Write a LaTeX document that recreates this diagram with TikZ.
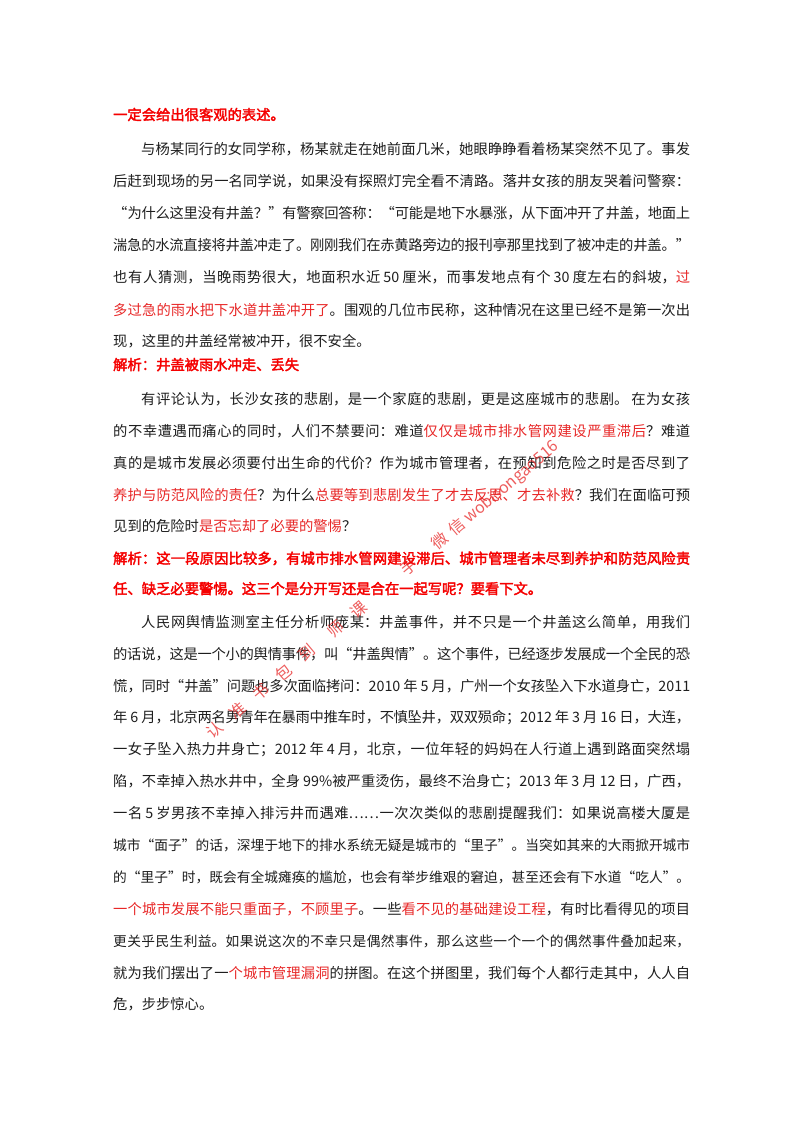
\documentclass[tikz,border=0pt]{standalone}
\usepackage{fontspec}
\setmainfont{Noto Sans CJK SC}
\newfontfamily\cjkb[FakeBold=2.5]{Noto Sans CJK SC}
\newfontfamily\cjkw{Noto Sans CJK SC}
\XeTeXlinebreaklocale "zh"
\XeTeXlinebreakskip=0pt plus 1pt minus 0.3pt
\definecolor{hl}{RGB}{232,40,40}
\definecolor{hd}{RGB}{245,0,0}
\definecolor{tx}{RGB}{30,30,30}
\newcommand{\jl}[1]{\parbox{577pt}{\XeTeXlinebreakskip=0pt plus 6pt minus 2pt\parindent=0pt\parfillskip=0pt\rightskip=0pt\leftskip=0pt\emergencystretch=0pt\hyphenpenalty=10000\tolerance=10000 #1}}
\newcommand{\R}[1]{\textcolor{hl}{#1}}
\newcommand{\ind}{\hspace*{28pt}}
\newcommand{\s}{\hspace{3pt}}
\begin{document}
\begin{tikzpicture}[x=1pt,y=1pt,
  ln/.style={anchor=base west,inner sep=0pt,font=\fontsize{14.3}{14}\selectfont,text=tx},
  sm/.style={ln,font=\fontsize{13.7}{14}\selectfont},
  hdln/.style={ln,font=\fontsize{14.3}{14}\selectfont\cjkb,text=hd},
  wmk/.style={inner sep=0pt,text=hl,opacity=0.75,font=\fontsize{16}{16}\selectfont\cjkw}]
\useasboundingbox (0,0) rectangle (800,-1132);
\fill[white] (0,0) rectangle (800,-1132);
\node[hdln] (h1) at (113,-120) {一定会给出很客观的表述。};
\node[ln] (a1) at (113,-153) {\jl{\ind 与杨某同行的女同学称，杨某就走在她前面几米，她眼睁睁看着杨某突然不见了。事发}};
\node[ln] (a2) at (113,-185) {\jl{后赶到现场的另一名同学说，如果没有探照灯完全看不清路。落井女孩的朋友哭着问警察：}};
\node[ln] (a3) at (113,-217) {\jl{“为什么这里没有井盖？”有警察回答称：“可能是地下水暴涨，从下面冲开了井盖，地面上}};
\node[ln] (a4) at (113,-249) {\jl{湍急的水流直接将井盖冲走了。刚刚我们在赤黄路旁边的报刊亭那里找到了被冲走的井盖。”}};
\node[ln] (a5) at (113,-281) {\jl{也有人猜测，当晚雨势很大，地面积水近\s{}50\s{}厘米，而事发地点有个\s{}30\s{}度左右的斜坡，\R{过}}};
\node[ln] (a6) at (113,-314) {\jl{\R{多过急的雨水把下水道井盖冲开了}。围观的几位市民称，这种情况在这里已经不是第一次出}};
\node[ln] (a7) at (113,-346) {现，这里的井盖经常被冲开，很不安全。};
\node[hdln] (h2) at (113,-370) {解析：井盖被雨水冲走、丢失};
\node[ln] (b1) at (113,-403) {\jl{\ind 有评论认为，长沙女孩的悲剧，是一个家庭的悲剧，更是这座城市的悲剧。\s{}在为女孩}};
\node[ln] (b2) at (113,-435) {\jl{的不幸遭遇而痛心的同时，人们不禁要问：难道\R{仅仅是城市排水管网建设严重滞后}？难道}};
\node[ln] (b3) at (113,-467) {\jl{真的是城市发展必须要付出生命的代价？作为城市管理者，在预知到危险之时是否尽到了}};
\node[ln] (b4) at (113,-499) {\jl{\R{养护与防范风险的责任}？为什么\R{总要等到悲剧发生了才去反思、才去补救}？我们在面临可预}};
\node[ln] (b5) at (113,-531) {见到的危险时\R{是否忘却了必要的警惕}？};
\node[hdln] (h3) at (113,-562) {\jl{解析：这一段原因比较多，有城市排水管网建设滞后、城市管理者未尽到养护和防范风险责}};
\node[hdln] (h4) at (113,-594) {任、缺乏必要警惕。这三个是分开写还是合在一起写呢？要看下文。};
\node[ln] (c1) at (113,-626) {\jl{\ind 人民网舆情监测室主任分析师庞某：井盖事件，并不只是一个井盖这么简单，用我们}};
\node[ln] (c2) at (113,-658) {\jl{的话说，这是一个小的舆情事件，叫“井盖舆情”。这个事件，已经逐步发展成一个全民的恐}};
\node[ln] (c3) at (113,-690) {\jl{慌，同时“井盖”问题也多次面临拷问：2010\s{}年\s{}5\s{}月，广州一个女孩坠入下水道身亡，2011}};
\node[ln] (c4) at (113,-721) {\jl{年\s{}6\s{}月，北京两名男青年在暴雨中推车时，不慎坠井，双双殒命；2012\s{}年\s{}3\s{}月\s{}16\s{}日，大连，}};
\node[ln] (c5) at (113,-753) {\jl{一女子坠入热力井身亡；2012\s{}年\s{}4\s{}月，北京，一位年轻的妈妈在人行道上遇到路面突然塌}};
\node[ln] (c6) at (113,-785) {\jl{陷，不幸掉入热水井中，全身\s{}99\%被严重烫伤，最终不治身亡；2013\s{}年\s{}3\s{}月\s{}12\s{}日，广西，}};
\node[ln] (c7) at (113,-817) {\jl{一名\s{}5\s{}岁男孩不幸掉入排污井而遇难……一次次类似的悲剧提醒我们：如果说高楼大厦是}};
\node[sm] (c8) at (113,-849) {\jl{城市“面子”的话，深埋于地下的排水系统无疑是城市的“里子”。当突如其来的大雨掀开城市}};
\node[sm] (c9) at (113,-881) {\jl{的“里子”时，既会有全城瘫痪的尴尬，也会有举步维艰的窘迫，甚至还会有下水道“吃人”。}};
\node[ln] (c10) at (113,-913) {\jl{\R{一个城市发展不能只重面子，不顾里子}。一些\R{看不见的基础建设工程}，有时比看得见的项目}};
\node[sm] (c11) at (113,-945) {\jl{更关乎民生利益。如果说这次的不幸只是偶然事件，那么这些一个一个的偶然事件叠加起来，}};
\node[ln] (c12) at (113,-977) {\jl{就为我们摆出了一\R{个城市管理漏洞}的拼图。在这个拼图里，我们每个人都行走其中，人人自}};
\node[ln] (c13) at (113,-1009) {危，步步惊心。};
\begin{scope}[shift={(212,-740)},rotate=40]
\node[wmk,anchor=base west,transform shape] (wm) at (0,0) {认\hspace{14pt}准\hspace{14pt}书\hspace{14pt}包\hspace{14pt}到\hspace{22pt}师\hspace{14pt}课\hspace{50pt}手\hspace{24pt}微\hspace{6pt}信\hspace{4pt}wobisongao516};
\end{scope}
\end{tikzpicture}
\end{document}
